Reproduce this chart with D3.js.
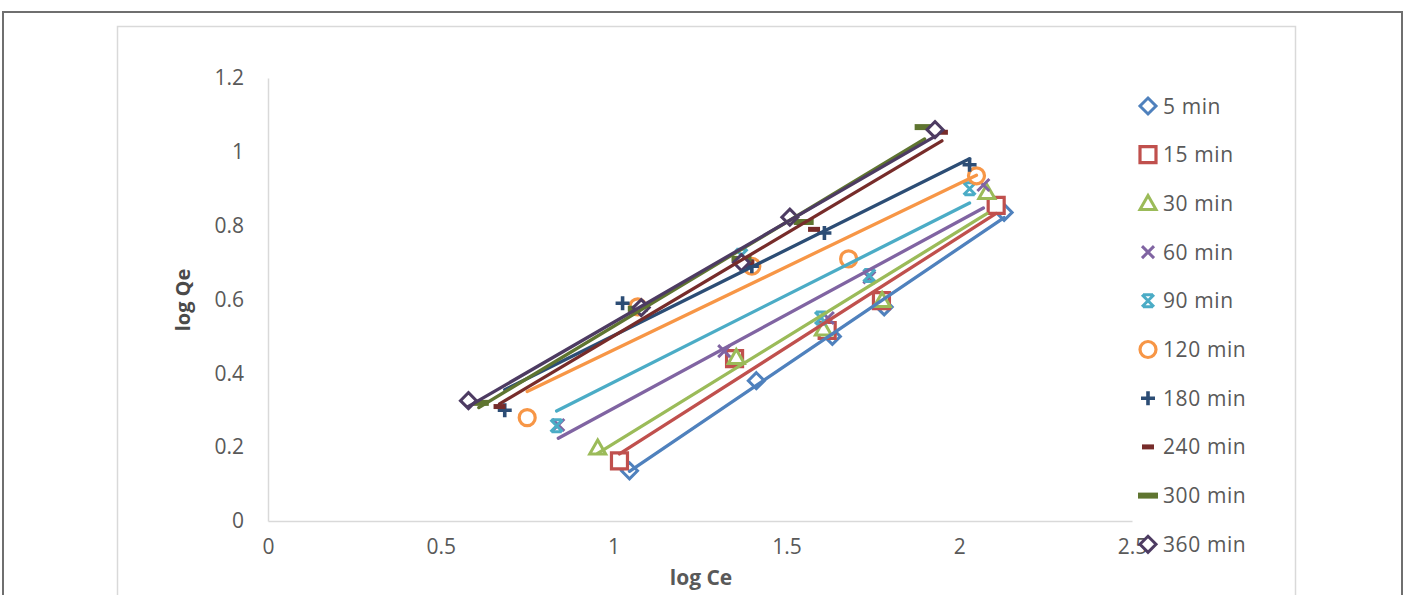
<!DOCTYPE html>
<html>
<head>
<meta charset="utf-8">
<script src="https://cdn.jsdelivr.net/npm/d3@7"></script>
<style>
  body { margin: 0; background: #fff; }
  text { font-family: "Open Sans", "Liberation Sans", sans-serif; }
</style>
</head>
<body>
<svg id="chart" width="1405" height="595"></svg>
<script>
// series (log Ce, log Qe)
var seriesNames = ["5 min", "15 min", "30 min", "60 min", "90 min", "120 min", "180 min", "240 min", "300 min", "360 min"];
var seriesColors = ["#4F81BD", "#C0504D", "#9BBB59", "#8064A2", "#4BACC6", "#F79646", "#2C4D75", "#772C2A", "#5F7530", "#4D3B62"];
var seriesMarkers = ["diamond", "square", "triangle", "x", "star", "circle", "plus", "dashShort", "dashLong", "diamond"];

var x5 = [1.046, 1.413, 1.633, 1.783, 2.13],   y5 = [0.136, 0.38, 0.50, 0.58, 0.836];
var x15 = [1.017, 1.35, 1.618, 1.775, 2.107],  y15 = [0.163, 0.44, 0.516, 0.597, 0.855];
var x30 = [0.954, 1.355, 1.607, 1.777, 2.08],  y30 = [0.198, 0.443, 0.52, 0.597, 0.89];
var x60 = [0.84, 1.32, 1.62, 1.74, 2.07],      y60 = [0.26, 0.46, 0.55, 0.66, 0.91];
var x90 = [0.835, 1.37, 1.60, 1.74, 2.03],     y90 = [0.258, 0.72, 0.55, 0.665, 0.90];
var x120 = [0.75, 1.07, 1.40, 1.68, 2.05],     y120 = [0.28, 0.58, 0.69, 0.71, 0.935];
var x180 = [0.685, 1.026, 1.40, 1.61, 2.03],   y180 = [0.30, 0.59, 0.69, 0.78, 0.965];
var x240 = [0.67, 1.06, 1.39, 1.58, 1.95],     y240 = [0.31, 0.57, 0.70, 0.79, 1.053];
var x300 = [0.61, 1.07, 1.37, 1.55, 1.90],     y300 = [0.32, 0.575, 0.71, 0.81, 1.067];
var x360 = [0.58, 1.08, 1.37, 1.51, 1.93],     y360 = [0.326, 0.578, 0.70, 0.823, 1.06];

var xTicks = [0, 0.5, 1, 1.5, 2, 2.5];
var yTicks = [0, 0.2, 0.4, 0.6, 0.8, 1, 1.2];

var allX = [x5, x15, x30, x60, x90, x120, x180, x240, x300, x360];
var allY = [y5, y15, y30, y60, y90, y120, y180, y240, y300, y360];

var series = seriesNames.map(function(name, i) {
  return {
    name: name,
    color: seriesColors[i],
    marker: seriesMarkers[i],
    points: allX[i].map(function(x, j) { return { x: x, y: allY[i][j] }; })
  };
});

var svg = d3.select("#chart");

// outer frame and chart area border
svg.append("path")
  .attr("d", "M3,596V12H1402V596")
  .attr("fill", "none")
  .attr("stroke", "#6f6f6f")
  .attr("stroke-width", 2);
svg.append("rect")
  .attr("x", 117.5).attr("y", 26.5)
  .attr("width", 1178).attr("height", 600)
  .attr("fill", "#fff")
  .attr("stroke", "#d9d9d9")
  .attr("stroke-width", 1.5);

var xScale = d3.scaleLinear().domain([0, 2.5]).range([268, 1132]);
var yScale = d3.scaleLinear().domain([0, 1.2]).range([521, 78]);

var xAxis = d3.axisBottom(xScale).tickValues(xTicks).tickSize(0).tickPadding(22)
  .tickFormat(function(d) { return String(d); });
var yAxis = d3.axisLeft(yScale).tickValues(yTicks).tickSize(0).tickPadding(24)
  .tickFormat(function(d) { return String(d); });

var gx = svg.append("g").attr("transform", "translate(0," + yScale(0) + ")").call(xAxis);
var gy = svg.append("g").attr("transform", "translate(" + xScale(0) + ",0)").call(yAxis);
[gx, gy].forEach(function(g) {
  g.select(".domain").attr("stroke", "#d9d9d9").attr("stroke-width", 1.5);
  g.selectAll("text")
    .attr("fill", "#595959")
    .style("font-size", "21px")
    .style("font-family", "\"Open Sans\", sans-serif");
});
gx.selectAll("text").attr("dy", "0.5em");

// axis titles
svg.append("text")
  .attr("x", 701).attr("y", 585)
  .attr("text-anchor", "middle")
  .attr("fill", "#595959")
  .style("font-size", "21px").style("font-weight", "bold")
  .text("log Ce");
svg.append("text")
  .attr("transform", "translate(190,300) rotate(-90)")
  .attr("text-anchor", "middle")
  .attr("fill", "#4a4a4a")
  .style("font-size", "20px").style("font-weight", "bold")
  .text("log Qe");

// marker shapes
function markerPath(type) {
  switch (type) {
    case "diamond": return "M0,-8L8,0L0,8L-8,0Z";
    case "square": return "M-8,-8H8V8H-8Z";
    case "triangle": return "M0,-8L8,6H-8Z";
    case "x": return "M-6,-6L6,6M6,-6L-6,6";
    case "star": return "M-6,-6L6,6M6,-6L-6,6M-5,-6H5M-5,6H5";
    case "circle": return "M8,0A8,8 0 1 1 -8,0A8,8 0 1 1 8,0Z";
    case "plus": return "M-7,0H7M0,-7V7";
    case "dashShort": return "M-6,-2.5H6V2.5H-6Z";
    case "dashLong": return "M-10,-3H10V3H-10Z";
  }
}
function styleMarker(sel, s) {
  var filled = s.marker === "dashShort" || s.marker === "dashLong";
  var open = s.marker === "diamond" || s.marker === "square" || s.marker === "triangle" || s.marker === "circle";
  sel.attr("d", markerPath(s.marker))
    .attr("fill", filled ? s.color : (open ? "#fff" : "none"))
    .attr("stroke", filled ? "none" : s.color)
    .attr("stroke-width", s.marker === "square" || s.marker === "circle" ? 3.2 : (s.marker === "plus" ? 3.6 : 3))
    .attr("stroke-linejoin", "miter");
}

// markers
series.forEach(function(s) {
  svg.append("g").selectAll("path")
    .data(s.points)
    .join("path")
    .attr("transform", function(d) { return "translate(" + xScale(d.x) + "," + yScale(d.y) + ")"; })
    .call(styleMarker, s);
});

// linear trendlines (least squares) spanning each series' x range
function fit(points) {
  var mx = d3.mean(points, function(p) { return p.x; });
  var my = d3.mean(points, function(p) { return p.y; });
  var sxy = d3.sum(points, function(p) { return (p.x - mx) * (p.y - my); });
  var sxx = d3.sum(points, function(p) { return (p.x - mx) * (p.x - mx); });
  var b = sxy / sxx;
  return function(x) { return my + b * (x - mx); };
}
var line = d3.line().x(function(d) { return xScale(d[0]); }).y(function(d) { return yScale(d[1]); });
series.forEach(function(s) {
  var f = fit(s.points);
  var ext = d3.extent(s.points, function(p) { return p.x; });
  svg.append("path")
    .datum([[ext[0], f(ext[0])], [ext[1], f(ext[1])]])
    .attr("d", line)
    .attr("fill", "none")
    .attr("stroke", s.color)
    .attr("stroke-width", 3.3)
    .attr("stroke-linecap", "round");
});

// legend
var legend = svg.append("g");
var leg = legend.selectAll("g")
  .data(series)
  .join("g")
  .attr("transform", function(d, i) { return "translate(1148," + (106 + i * 48.7) + ")"; });
leg.each(function(s) {
  var g = d3.select(this);
  g.append("path").call(styleMarker, s);
  g.append("text")
    .attr("x", 15)
    .attr("dy", "0.36em")
    .attr("fill", "#595959")
    .style("font-size", "21px")
    .style("letter-spacing", "0.6px")
    .text(s.name);
});
</script>
</body>
</html>
